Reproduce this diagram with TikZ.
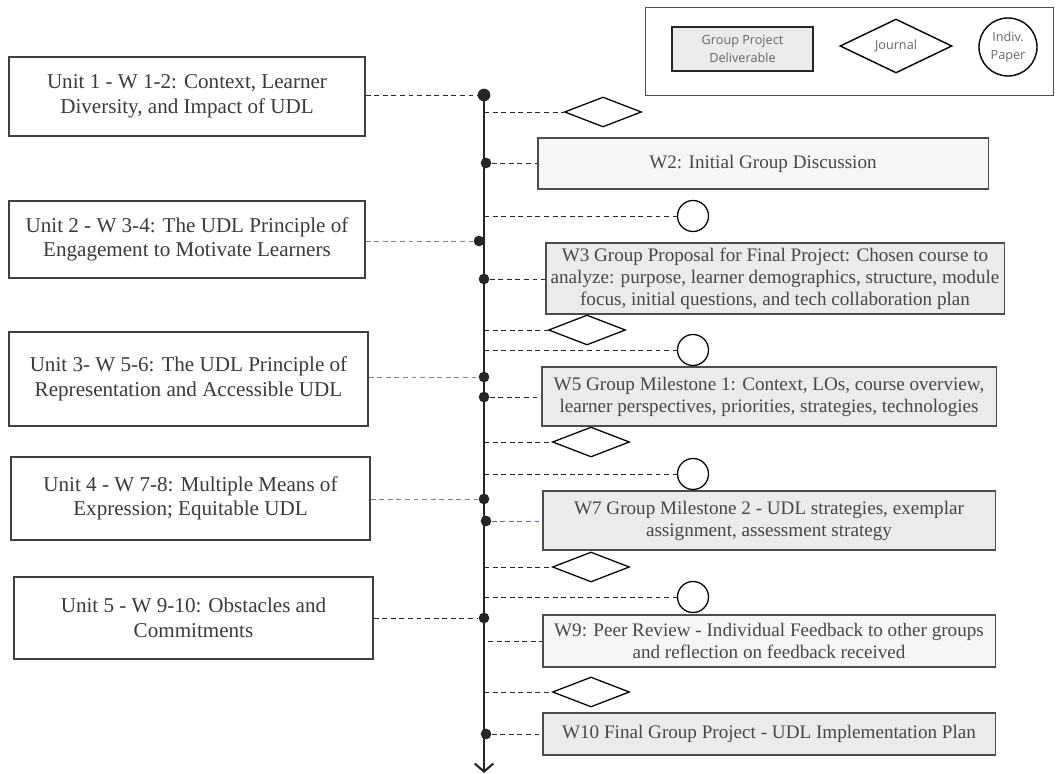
\documentclass[tikz,border=0pt]{standalone}
\usepackage{fontspec}
\setmainfont{Liberation Serif}
\newfontfamily\legendfont{Open Sans}
\usetikzlibrary{arrows.meta,shapes.geometric}

\definecolor{boxfill}{HTML}{EBEBEB}
\definecolor{palefill}{HTML}{F6F6F6}
\definecolor{inkgray}{HTML}{3A3A3A}
\definecolor{linkblue}{HTML}{5566CC}

\begin{document}
\begin{tikzpicture}[
  x=0.025cm, y=-0.025cm,
  unit/.style={
    rectangle, draw=black!75, line width=0.8pt, fill=white,
    text=inkgray, align=center, inner sep=1pt,
    font=\fontsize{15pt}{17.5pt}\selectfont
  },
  task/.style={
    rectangle, draw=black!70, line width=0.8pt, fill=boxfill,
    text=black!72, align=center, inner sep=1pt,
    font=\fontsize{13.6pt}{15.6pt}\selectfont
  },
  talk/.style={task, fill=palefill},
  journal/.style={
    diamond, draw=black, line width=0.9pt, fill=white,
    minimum width=1.925cm, minimum height=0.75cm, inner sep=0pt
  },
  paper/.style={
    circle, draw=black, line width=0.9pt, fill=white,
    minimum size=0.775cm, inner sep=0pt
  },
  keytext/.style={text=black!60, font=\legendfont\fontsize{9pt}{12.6pt}\selectfont},
  dot/.style={circle, fill=black!85, inner sep=0pt, minimum size=7.6pt},
  link/.style={dashed, dash pattern=on 3.5pt off 2.6pt, draw=black!85, line width=0.6pt},
  faint/.style={link, draw=black!50},
  spine/.style={
    draw=black!85, line width=2.1pt,
    -{Straight Barb[length=2mm,width=4.6mm,line width=1.5pt]}
  }
]
\useasboundingbox (0,0) rectangle (1058,774);

% ─── Timeline ───────────────────────────────────────────────
\coordinate (top) at (484,95);
\coordinate (bot) at (484,773);
\draw[spine] (top) -- (bot);

\node[dot, minimum size=9pt] (d1) at (484,95) {};
\node[dot] (d2) at (479,241) {};
\node[dot] (d3) at (484,377) {};
\node[dot] (d4) at (484,499) {};
\node[dot] (d5) at (484,618) {};

\node[dot] (e2)  at (486,163) {};
\node[dot] (e3)  at (484,279) {};
\node[dot] (e5)  at (484,397) {};
\node[dot] (e7)  at (486,521) {};
\coordinate (e9) at (488,641);
\node[dot] (e10) at (486,734) {};

% ─── Units ──────────────────────────────────────────────────
\node[unit, minimum width=8.9cm,   minimum height=1.975cm] (u1) at (187,96.5)  {Unit 1 - W 1-2: Context, Learner\\Diversity, and Impact of UDL};
\node[unit, minimum width=8.9cm,   minimum height=1.925cm] (u2) at (187,239.5) {Unit 2 - W 3-4: The UDL Principle of\\Engagement to Motivate Learners};
\node[unit, minimum width=8.975cm, minimum height=2.35cm]  (u3) at (188.5,379) {Unit 3- W 5-6: The UDL Principle of\\Representation and Accessible UDL};
\node[unit, minimum width=8.975cm, minimum height=2.075cm] (u4) at (190.5,498.5) {Unit 4 - W 7-8: Multiple Means of\\Expression; Equitable UDL};
\node[unit, minimum width=8.975cm, minimum height=2.05cm]  (u5) at (193.5,618) {Unit 5 - W 9-10: Obstacles and\\Commitments};

\draw[link]  (u1.east |- d1) -- (d1);
\draw[faint] (u2.east |- d2) -- (d2);
\draw[faint] (u3.east |- d3) -- (d3);
\draw[faint] (u4.east |- d4) -- (d4);
\draw[link]  (u5.east |- d5) -- (d5);

% ─── Group deliverables ─────────────────────────────────────
\node[talk, minimum width=11.25cm, minimum height=1.275cm] (w2) at (763,163.5) {W2: Initial Group Discussion};
\node[task, minimum width=11.45cm, minimum height=1.775cm] (w3) at (775,278.5) {W3 Group Proposal for Final Project: Chosen course to\\analyze: purpose, learner demographics, structure, module\\focus, initial questions, and tech collaboration plan};
\node[task, minimum width=11.35cm, minimum height=1.475cm] (w5) at (769,396.5) {W5 Group Milestone 1: Context, LOs, course overview,\\learner perspectives, priorities, strategies, technologies};
\node[task, minimum width=11.3cm, minimum height=1.475cm] (w7) at (769,520.5) {W7 Group Milestone 2 - UDL strategies, exemplar\\assignment, assessment strategy};
\node[talk, minimum width=11.3cm, minimum height=1.3cm]  (w9) at (769,641) {W9: Peer Review - Individual Feedback to other groups\\and reflection on feedback received};
\node[task, minimum width=11.3cm, minimum height=1.05cm] (w10) at (769,734) {W10 Final Group Project - UDL Implementation Plan};

\draw[link] (e2) -- (e2 -| w2.west);
\draw[link] (e3) -- (e3 -| w3.west);
\draw[link] (e5) -- (e5 -| w5.west);
\draw[link, draw=linkblue] (e7) -- (e7 -| w7.west);
\draw[link] (e9) -- (e9 -| w9.west);
\draw[link] (e10) -- (e10 -| w10.west);

% ─── Journals and papers ────────────────────────────────────
\node[journal] (j1) at (603,112) {};
\node[journal] (j2) at (587,330) {};
\node[journal] (j3) at (591,442) {};
\node[journal] (j4) at (591,567) {};
\node[journal] (j5) at (591,692) {};

\node[paper] (p1) at (693,216) {};
\node[paper] (p2) at (693,350) {};
\node[paper] (p3) at (693,474) {};
\node[paper] (p4) at (693,597) {};

\foreach \n in {j1,j2,j3,j4,j5,p1,p2,p3,p4}
  \draw[link] (top |- \n.west) -- (\n.west);

% ─── Legend ─────────────────────────────────────────────────
\node[draw=black!70, line width=0.6pt, minimum width=10.2cm, minimum height=2.2cm] (key) at (849,51) {};
\node[rectangle, draw=black!85, line width=1.3pt, fill=boxfill, minimum width=3.525cm, minimum height=1.1cm,
      align=center, keytext] (kdel) at (742.5,49) {Group Project\\Deliverable};
\node[diamond, draw=black, line width=1pt, minimum width=2.8cm, minimum height=1.25cm, inner sep=0pt,
      keytext] (kjour) at (896,46) {Journal};
\node[circle, draw=black, line width=1pt, minimum size=1.45cm, inner sep=0pt, align=center,
      keytext] (kpap) at (1008,47) {Indiv.\\Paper};

\end{tikzpicture}
\end{document}
